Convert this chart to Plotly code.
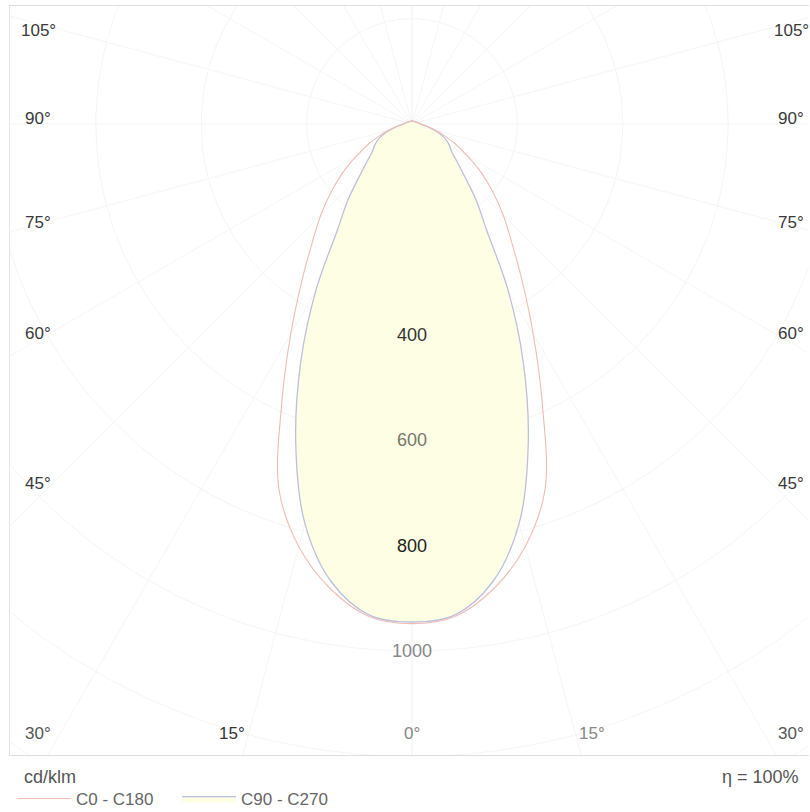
import numpy as np
import plotly.graph_objects as go

# ---- data (cd/klm) ----
gamma_deg = [0, 5, 10, 15, 20, 25, 30, 35, 40, 45, 50, 55, 60, 65, 70, 75, 80, 85, 90, 105, 120, 150, 180]
c0_c180 = [948, 938, 895, 830, 738, 585, 460, 365, 295, 245, 200, 160, 122, 92, 66, 46, 32, 22, 16, 11, 8, 6, 6]
c90_c270 = [945, 935, 882, 785, 645, 500, 365, 248, 190, 142, 112, 92, 82, 72, 58, 42, 30, 21, 16, 11, 8, 6, 6]

ring_values = [400, 600, 800, 1000]
ring_labels = ["400", "600", "800", "1000"]
ring_colors = ["#333333", "#77776a", "#222222", "#888888"]
grid_radii = [200, 400, 600, 800, 1000, 1200, 1400]
grid_angles = list(range(0, 181, 15))
side_labels = ["105°", "90°", "75°", "60°", "45°"]
bottom_labels = ["30°", "15°", "0°", "15°", "30°"]
unit_label = "cd/klm"
eta_label = "η = 100%"

# ---- layout geometry (pixels) ----
W, H = 810, 812
PL, PR, PT, PB = 10, 809, 6, 755          # plot frame
CX, CY = 412, 124                          # luminaire centre
S = 0.527                                  # px per cd/klm


def px(x, y):
    return (x - PL) / (PR - PL), (PB - y) / (PB - PT)


def closed_curve(g, r):
    g = np.radians(np.asarray(g, float))
    r = np.asarray(r, float)
    xl = -r[::-1] * np.sin(g[::-1])
    yl = -r[::-1] * np.cos(g[::-1])
    xr = r[1:] * np.sin(g[1:])
    yr = -r[1:] * np.cos(g[1:])
    return np.concatenate([xl, xr]), np.concatenate([yl, yr])


fig = go.Figure()

# faint polar grid
t = np.linspace(0, 2 * np.pi, 361)
for rr in grid_radii:
    fig.add_trace(go.Scatter(x=rr * np.cos(t), y=rr * np.sin(t), mode="lines",
                             line=dict(color="#f5f5f5", width=1),
                             hoverinfo="skip", showlegend=False))
for a in grid_angles:
    ar = np.radians(a)
    fig.add_trace(go.Scatter(x=[-1600 * np.sin(ar), 0, 1600 * np.sin(ar)],
                             y=[-1600 * np.cos(ar), 0, -1600 * np.cos(ar)], mode="lines",
                             line=dict(color="#f5f5f5", width=1),
                             hoverinfo="skip", showlegend=False))

xb, yb = closed_curve(gamma_deg, c90_c270)
fig.add_trace(go.Scatter(x=xb, y=yb, mode="lines", name="C90 - C270",
                         line=dict(color="#bcc0dc", width=1.3, shape="spline"),
                         fill="toself", fillcolor="#fefee4", legendrank=2))
xr_, yr_ = closed_curve(gamma_deg, c0_c180)
fig.add_trace(go.Scatter(x=xr_, y=yr_, mode="lines", name="C0 - C180",
                         line=dict(color="#f0bcb4", width=1.1, shape="spline"),
                         legendrank=1))

ann = []
font = "Liberation Sans, Arial, sans-serif"
for v, lab, col in zip(ring_values, ring_labels, ring_colors):
    ann.append(dict(x=0, y=-v, xref="x", yref="y", text=lab, showarrow=False,
                    xanchor="center", yanchor="middle",
                    font=dict(size=18, color=col, family=font)))

side_y = [30, 118, 222, 333, 483]
for lab, yy in zip(side_labels, side_y):
    for xx in (38, 791):
        a, b = px(xx, yy)
        ann.append(dict(x=a, y=b, xref="paper", yref="paper", text=lab, showarrow=False,
                        xanchor="center", yanchor="middle",
                        font=dict(size=17, color="#3a3a3a", family=font)))
bottom_x = [38, 232, 412, 592, 791]
bottom_c = ["#555555", "#333333", "#888888", "#888888", "#555555"]
for lab, xx, col in zip(bottom_labels, bottom_x, bottom_c):
    a, b = px(xx, 733)
    ann.append(dict(x=a, y=b, xref="paper", yref="paper", text=lab, showarrow=False,
                    xanchor="center", yanchor="middle",
                    font=dict(size=17, color=col, family=font)))

a, b = px(22, 777)
ann.append(dict(x=a, y=b, xref="paper", yref="paper", text=unit_label, showarrow=False,
                xanchor="left", yanchor="middle",
                font=dict(size=18, color="#555555", family=font)))
a, b = px(801, 777)
ann.append(dict(x=a, y=b, xref="paper", yref="paper", text=eta_label, showarrow=False,
                xanchor="right", yanchor="middle",
                font=dict(size=18, color="#555555", family=font)))

lx, ly = px(12, 781)
fig.update_layout(
    width=W, height=H,
    margin=dict(l=PL, r=W - PR, t=PT, b=H - PB, pad=0, autoexpand=False),
    paper_bgcolor="white", plot_bgcolor="white",
    xaxis=dict(range=[-(CX - PL) / S, (PR - CX) / S], showgrid=False, zeroline=False,
               showticklabels=False, ticks="", showline=True, mirror=True,
               linecolor="#dedede", linewidth=1, fixedrange=True),
    yaxis=dict(range=[-(PB - CY) / S, (CY - PT) / S], showgrid=False, zeroline=False,
               showticklabels=False, ticks="", showline=True, mirror=False,
               linecolor="#e4e4e4", linewidth=1, fixedrange=True),
    showlegend=True,
    legend=dict(orientation="h", x=lx, y=ly, xanchor="left", yanchor="top",
                font=dict(size=17, color="#666666", family=font),
                bgcolor="rgba(0,0,0,0)", itemwidth=54, entrywidth=96,
                entrywidthmode="pixels", tracegroupgap=0, itemclick=False),
    annotations=ann,
)

fig.write_html("out.html", config={"displayModeBar": False},
               post_script="document.body.style.margin='0px';")
